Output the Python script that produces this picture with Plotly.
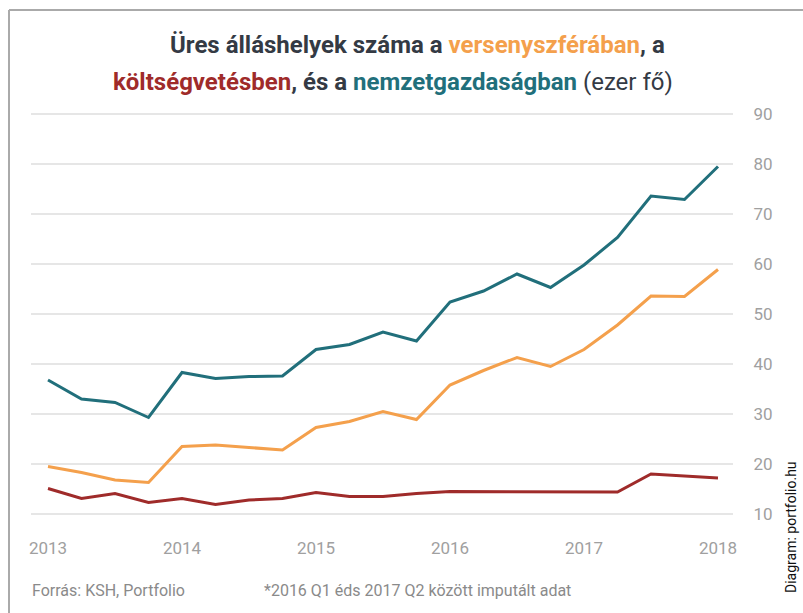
import plotly.graph_objects as go

quarters = [2013 + i / 4 for i in range(21)]
nemzetgazdasag = [36.8, 33.0, 32.3, 29.3, 38.3, 37.1, 37.5, 37.6, 42.9, 43.9, 46.4,
                  44.6, 52.4, 54.6, 58.0, 55.3, 59.8, 65.3, 73.6, 72.9, 79.5]
versenyszfera = [19.5, 18.3, 16.8, 16.3, 23.5, 23.8, 23.3, 22.8, 27.3, 28.5, 30.5,
                 28.9, 35.8, 38.7, 41.3, 39.5, 42.9, 47.8, 53.6, 53.5, 58.9]
koltsegvetes = [15.1, 13.1, 14.1, 12.3, 13.1, 11.9, 12.8, 13.1, 14.3, 13.5, 13.5,
                14.1, 14.5, 14.5, 14.5, 14.5, 14.5, 14.4, 18.0, 17.6, 17.2]
x_tick_vals = [2013, 2014, 2015, 2016, 2017, 2018]
x_tick_text = ["2013", "2014", "2015", "2016", "2017", "2018"]
y_tick_vals = [10, 20, 30, 40, 50, 60, 70, 80, 90]

TEAL = "#216f7b"
ORANGE = "#f4a04c"
RED = "#9f2b2a"

fig = go.Figure()
fig.add_trace(go.Scatter(x=quarters, y=koltsegvetes, mode="lines",
                         line=dict(color=RED, width=3), showlegend=False))
fig.add_trace(go.Scatter(x=quarters, y=versenyszfera, mode="lines",
                         line=dict(color=ORANGE, width=3), showlegend=False))
fig.add_trace(go.Scatter(x=quarters, y=nemzetgazdasag, mode="lines",
                         line=dict(color=TEAL, width=3), showlegend=False))

L, R, T, B = 31, 70, 109, 94
W, H = 803, 613
pw, ph = W - L - R, H - T - B


def px(x):
    return (x - L) / pw


def py(y):
    return (H - B - y) / ph


fig.update_layout(
    width=W, height=H,
    margin=dict(l=L, r=R, t=T, b=B),
    paper_bgcolor="white", plot_bgcolor="white",
    font=dict(family="Roboto", color="#999999"),
    xaxis=dict(range=[2013 - 17 / 134, 2013 + 685 / 134], tickvals=x_tick_vals,
               ticktext=x_tick_text, showgrid=False, zeroline=False, showline=False,
               tickfont=dict(size=17, color="#a0a0a0"), ticklabelstandoff=17),
    yaxis=dict(range=[9, 91], tickvals=y_tick_vals, side="right", showgrid=True,
               gridcolor="#e6e6e6", gridwidth=2, zeroline=False, showline=False,
               ticks="outside", ticklen=16, tickcolor="rgba(0,0,0,0)",
               tickfont=dict(size=17, color="#a0a0a0")),
)

title_dark = "#343a44"
fig.add_annotation(
    xref="paper", yref="paper", x=px(417), y=py(45), xanchor="center", yanchor="middle",
    showarrow=False, font=dict(size=24, color=title_dark, family="Roboto"),
    text=f"<b>Üres álláshelyek száma a <span style='color:{ORANGE}'>versenyszférában</span>, a</b>")
fig.add_annotation(
    xref="paper", yref="paper", x=px(393), y=py(82), xanchor="center", yanchor="middle",
    showarrow=False, font=dict(size=24, color=title_dark, family="Roboto"),
    text=(f"<b><span style='color:{RED}'>költségvetésben</span>, és a "
          f"<span style='color:{TEAL}'>nemzetgazdaságban</span></b> (ezer fő)"))

fig.add_annotation(xref="paper", yref="paper", x=px(30), y=py(590), xanchor="left",
                   yanchor="middle", showarrow=False,
                   font=dict(size=16, color="#8a8a8a"), text="Forrás: KSH, Portfolio")
fig.add_annotation(xref="paper", yref="paper", x=px(262), y=py(590), xanchor="left",
                   yanchor="middle", showarrow=False,
                   font=dict(size=16, color="#8a8a8a"),
                   text="*2016 Q1 éds 2017 Q2 között imputált adat")
fig.add_annotation(xref="paper", yref="paper", x=px(791), y=py(527), xanchor="center",
                   yanchor="middle", showarrow=False, textangle=-90,
                   font=dict(size=14, color="#111111", family="Roboto"),
                   text="Diagram: portfolio.hu")

fig.add_shape(type="line", xref="paper", yref="paper", x0=px(9), x1=px(9),
              y0=py(10), y1=py(613), line=dict(color="#aaaaaa", width=2))
fig.add_shape(type="line", xref="paper", yref="paper", x0=px(9), x1=px(803),
              y0=py(10), y1=py(10), line=dict(color="#aaaaaa", width=2))

fig.write_html("out.html", config={"displayModeBar": False},
               post_script="document.body.style.margin='0';")
